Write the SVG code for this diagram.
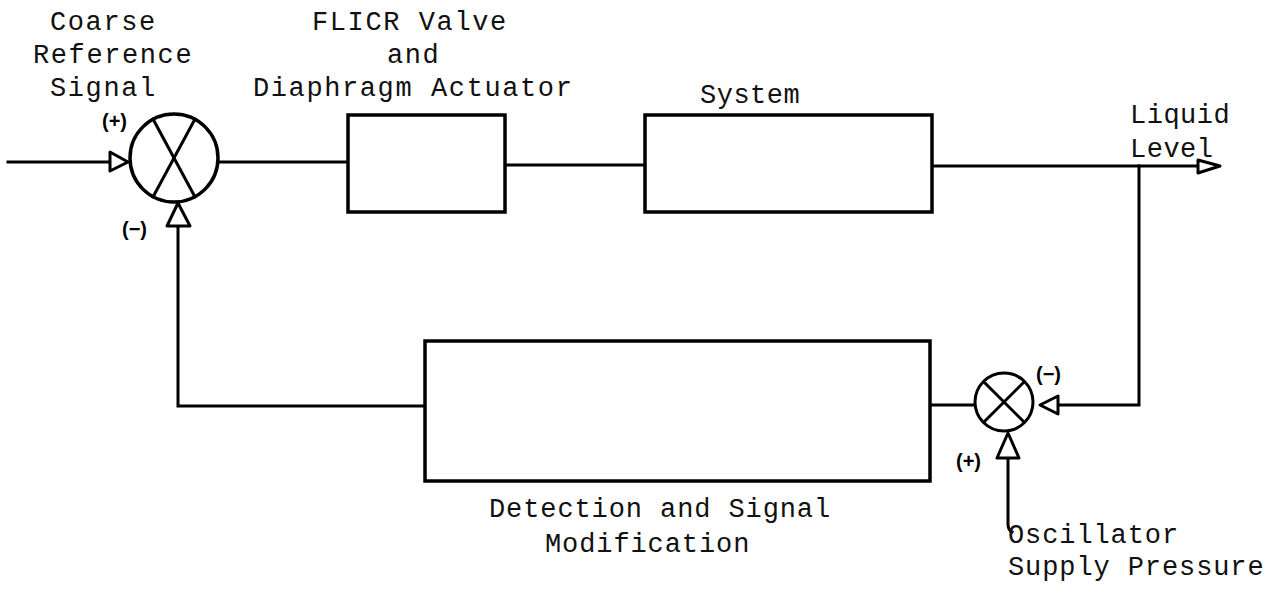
<svg xmlns="http://www.w3.org/2000/svg" width="1279" height="593" viewBox="0 0 1279 593">
<style>
.ln{fill:none;stroke:#000;stroke-width:3;stroke-linecap:square}
.bx{fill:#fff;stroke:#000;stroke-width:3.5}
.ah{fill:#fff;stroke:#000;stroke-width:3;stroke-linejoin:round}
.t{font-family:"Liberation Mono","DejaVu Sans Mono",monospace;font-size:27px;fill:#111;letter-spacing:0.5px}
.t1{letter-spacing:1.6px}
.t2{letter-spacing:0.9px}
.s{font-family:"Liberation Sans","DejaVu Sans",sans-serif;font-size:20px;font-weight:bold;fill:#000}
</style>
<rect width="1279" height="593" fill="#fff"/>
<g id="connectors">
<line class="ln" x1="8" y1="162" x2="110" y2="162"/>
<line class="ln" x1="218" y1="162" x2="348" y2="162"/>
<line class="ln" x1="505" y1="165" x2="645" y2="165"/>
<line class="ln" x1="932" y1="166" x2="1198" y2="166"/>
<polyline class="ln" points="1139,166 1139,405 1058,405"/>
<line class="ln" x1="930" y1="405" x2="975" y2="405"/>
<polyline class="ln" points="425,406 178,406 178,226"/>
<path class="ln" d="M1008,458 L1008,524 Q1008,530 1012,532"/>
<polygon class="ah" points="110,152 128,162 110,171"/>
<polygon class="ah" points="178,203 167,226 190,226"/>
<polygon class="ah" points="1198,160 1220,166 1198,173"/>
<polygon class="ah" points="1040,405 1058,396 1058,414"/>
<polygon class="ah" points="1008,433 997,458 1019,458"/>
</g>
<g id="sum1">
<circle cx="174" cy="158" r="44" fill="#fff" stroke="#000" stroke-width="3.5"/>
<line class="ln" x1="153" y1="119" x2="195" y2="197"/>
<line class="ln" x1="195" y1="119" x2="153" y2="197"/>
<text class="s" x="102" y="128">(+)</text>
<text class="s" x="122" y="236">(−)</text>
</g>
<g id="sum2">
<circle cx="1004" cy="402" r="29" fill="#fff" stroke="#000" stroke-width="3"/>
<line class="ln" x1="984" y1="382" x2="1024" y2="422"/>
<line class="ln" x1="1024" y1="382" x2="984" y2="422"/>
<text class="s" x="1036" y="381">(−)</text>
<text class="s" x="956" y="468" font-size="17">(+)</text>
</g>
<g id="flicr">
<rect class="bx" x="348" y="115" width="157" height="97"/>
</g>
<g id="system">
<rect class="bx" x="645" y="115" width="287" height="97"/>
</g>
<g id="detection">
<rect class="bx" x="425" y="341" width="505" height="140"/>
</g>
<g id="labels">
<text class="t t1" x="50" y="30">Coarse</text>
<text class="t t1" x="33" y="63">Reference</text>
<text class="t t1" x="50" y="96">Signal</text>
<text class="t t1" x="312" y="30">FLICR Valve</text>
<text class="t t1" x="387" y="63">and</text>
<text class="t t1" x="253" y="96">Diaphragm Actuator</text>
<text class="t" x="700" y="103">System</text>
<text class="t" x="1130" y="123">Liquid</text>
<text class="t" x="1130" y="157">Level</text>
<text class="t t2" x="489" y="517">Detection and Signal</text>
<text class="t t2" x="545" y="552">Modification</text>
<text class="t t2" x="1008" y="543">Oscillator</text>
<text class="t t2" x="1008" y="575">Supply Pressure</text>
</g>
</svg>
